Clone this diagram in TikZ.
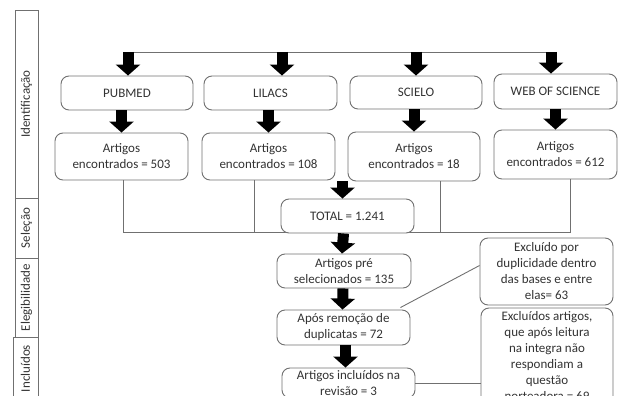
\documentclass[tikz,border=0pt]{standalone}
\usepackage{fontspec}
\setmainfont{Carlito}
\usetikzlibrary{arrows.meta,calc}
\definecolor{boxline}{HTML}{707070}
\definecolor{boxtext}{HTML}{333333}
\tikzset{
  box/.style={draw=boxline, line width=0.9pt, rounded corners=8pt, fill=white,
    text=boxtext, align=center, inner sep=0pt, font=\fontsize{13}{16}\selectfont},
  phase/.style={draw=boxline, line width=0.9pt, rotate=90, text=boxtext,
    inner sep=0pt, font=\fontsize{13}{15}\selectfont},
  bigarrow/.style={black, line width=11pt, -{Triangle[length=11pt,width=24pt]}},
  link/.style={draw=boxline, line width=0.9pt}
}
\begin{document}
\begin{tikzpicture}[x=1pt,y=1pt]
\useasboundingbox (0,0) rectangle (619,396);
\clip (0,0) rectangle (619,396);

\node[phase, minimum width=188pt, minimum height=23pt] (ident) at (26.5,292) {Identificação};
\node[phase, minimum width=60pt, minimum height=23pt] (sel) at (26.5,168) {Seleção};
\node[phase, minimum width=79pt, minimum height=23pt] (eleg) at (26.5,98.5) {Elegibilidade};
\node[phase, minimum width=63pt, minimum height=25pt] (inclphase) at (25.5,27.5) {Incluídos};

\node[box, minimum width=132pt, minimum height=34pt] (pubmed) at (127,303) {PUBMED};
\node[box, minimum width=133pt, minimum height=34pt] (lilacs) at (270.5,303) {LILACS};
\node[box, minimum width=132pt, minimum height=33pt] (scielo) at (416,303.5) {SCIELO};
\node[box, minimum width=123pt, minimum height=35pt] (wos) at (555.5,304.5) {WEB OF SCIENCE};

\coordinate (t1) at (128,344);
\coordinate (t2) at (282,344);
\coordinate (t3) at (416,344);
\coordinate (t4) at (551,344);
\draw[link] (t1) -- (t4);
\foreach \t/\b in {t1/pubmed, t2/lilacs, t3/scielo, t4/wos}
  \draw[bigarrow] (\t) -- (\t |- \b.north);

\node[box, minimum width=133pt, minimum height=47pt] (a503) at (121.5,239.5) {Artigos\\encontrados = 503};
\node[box, minimum width=133pt, minimum height=47pt] (a108) at (268.5,239.5) {Artigos\\encontrados = 108};
\node[box, minimum width=132pt, minimum height=49pt] (a18) at (414,239.5) {Artigos\\encontrados = 18};
\node[box, minimum width=123pt, minimum height=49pt] (a612) at (555.5,241.5) {Artigos\\encontrados = 612};

\foreach \a/\b in {pubmed/a503, lilacs/a108, scielo/a18, wos/a612}
  \draw[bigarrow] (\a.south -| \b.north) -- (\b.north);

\coordinate (b1) at (123,164);
\coordinate (b2) at (254,164);
\coordinate (b3) at (440,164);
\coordinate (b4) at (570,164);
\draw[link] (a503.south -| b1) -- (b1) -- (b4) -- (a612.south -| b4);
\draw[link] (a108.south -| b2) -- (b2);
\draw[link] (a18.south -| b3) -- (b3);

\node[box, minimum width=133pt, minimum height=34pt] (total) at (347.5,180) {TOTAL = 1.241};
\node[box, minimum width=134pt, minimum height=34pt] (pre) at (344,125) {Artigos pré\\selecionados = 135};
\node[box, minimum width=133pt, minimum height=35pt] (dup) at (343.5,68.5) {Após remoção de\\duplicatas = 72};
\node[box, minimum width=133pt, minimum height=30pt] (incl) at (348.5,13) {Artigos incluídos na\\revisão = 3};

\draw[bigarrow] ($(a18.south -| total.north)+(-5,0)$) -- ($(total.north)+(-5,0)$);
\draw[bigarrow] ($(total.south)+(-4,0)$) -- ($(pre.north)+(-2,0)$);
\draw[bigarrow] ($(pre.south)+(-1,0)$) -- ($(dup.north)+(-1,0)$);
\draw[bigarrow] ($(dup.south)+(2,0)$) -- ($(incl.north)+(-3,0)$);

\node[box, minimum width=133pt, minimum height=67pt] (exc1) at (546.5,124.5) {Excluído por\\duplicidade dentro\\das bases e entre\\elas= 63};
\node[box, minimum width=132pt, minimum height=96pt] (exc2) at (547,40) {Excluídos artigos,\\que após leitura\\na integra não\\respondiam a\\questão\\norteadora = 69};

\draw[link] ($(dup.north east)+(-10,2)$) -- ($(exc1.west)+(0,6)$);
\draw[link] (incl.east) -- (incl.east -| exc2.west);
\end{tikzpicture}
\end{document}
